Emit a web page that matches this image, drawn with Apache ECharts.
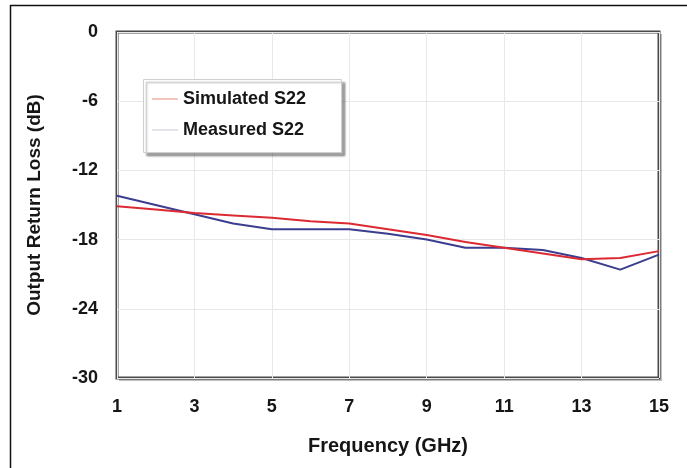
<!DOCTYPE html>
<html>
<head>
<meta charset="utf-8">
<script src="https://cdn.jsdelivr.net/npm/echarts@6/dist/echarts.min.js"></script>
<style>
  html, body { margin: 0; padding: 0; background: #fff; }
  #ec { width: 687px; height: 468px; }
</style>
</head>
<body>
<div id="ec"></div>
<script>
// frequency points (GHz)
var freqs = ['1', '2', '3', '4', '5', '6', '7', '8', '9', '10', '11', '12', '13', '14', '15']
// output return loss (dB)
var simulatedS22 = [-15.1, -15.4, -15.7, -15.9, -16.1, -16.4, -16.6, -17.1, -17.6, -18.2, -18.7, -19.2, -19.7, -19.6, -19.0]
var measuredS22 = [-14.2, -15.0, -15.8, -16.6, -17.1, -17.1, -17.1, -17.5, -18.0, -18.7, -18.7, -18.9, -19.6, -20.6, -19.3]

var font = 'Liberation Sans'
var ink = '#161616'

var chart = echarts.init(document.getElementById('ec'))
chart.setOption({
  animation: false,
  backgroundColor: '#fff',
  textStyle: { fontFamily: font },
  grid: {
    left: 117,
    right: 28,
    top: 32,
    bottom: 90,
    show: true,
    backgroundColor: 'transparent',
    borderColor: '#4a4a4a',
    borderWidth: 3
  },
  graphic: [
    // outer frame (top and left edges visible)
    { type: 'line', z: 1, shape: { x1: 10, y1: 5.5, x2: 687, y2: 5.5 }, style: { stroke: '#111', lineWidth: 1.5 } },
    { type: 'line', z: 1, shape: { x1: 10.5, y1: 5, x2: 10.5, y2: 468 }, style: { stroke: '#111', lineWidth: 1.5 } },
    // soft shadow right/bottom of the plot frame
    { type: 'polyline', z: 1, shape: { points: [[661, 34], [661, 380], [119, 380]] }, style: { fill: null, stroke: 'rgba(0,0,0,0.25)', lineWidth: 2 } },
    // legend box
    {
      type: 'rect',
      z: 5,
      shape: { x: 143.5, y: 79.5, width: 198, height: 73 },
      style: {
        fill: '#fff',
        stroke: '#cfcfcf',
        lineWidth: 1,
        shadowColor: 'rgba(0,0,0,0.35)',
        shadowBlur: 2,
        shadowOffsetX: 3,
        shadowOffsetY: 3
      }
    }
  ],
  legend: {
    z: 10,
    orient: 'vertical',
    left: 143,
    top: 79,
    padding: [11, 20, 14, 9],
    itemWidth: 26,
    itemHeight: 2,
    itemGap: 13,
    selectedMode: false,
    textStyle: { fontFamily: font, fontWeight: 'bold', fontSize: 18, color: ink },
    data: [
      { name: 'Simulated S22', icon: 'rect', itemStyle: { color: '#f5c4bd' } },
      { name: 'Measured S22', icon: 'rect', itemStyle: { color: '#e4e4ec' } }
    ]
  },
  xAxis: {
    type: 'category',
    data: freqs,
    boundaryGap: false,
    name: 'Frequency (GHz)',
    nameLocation: 'middle',
    nameGap: 58,
    nameTextStyle: { fontFamily: font, fontWeight: 'bold', fontSize: 20, color: ink },
    axisLine: { show: false },
    axisTick: { show: false },
    axisLabel: {
      interval: 1,
      margin: 20,
      fontFamily: font,
      fontWeight: 'bold',
      fontSize: 18,
      color: ink
    },
    splitLine: { show: true, interval: 1, lineStyle: { color: '#e8e8e8', width: 1 } }
  },
  yAxis: {
    type: 'value',
    min: -30,
    max: 0,
    interval: 6,
    name: 'Output Return Loss (dB)',
    nameLocation: 'middle',
    nameGap: 73,
    nameTextStyle: { fontFamily: font, fontWeight: 'bold', fontSize: 19, color: ink },
    axisLine: { show: false },
    axisTick: { show: false },
    axisLabel: {
      margin: 19,
      fontFamily: font,
      fontWeight: 'bold',
      fontSize: 18,
      color: ink
    },
    splitLine: { show: true, lineStyle: { color: '#e8e8e8', width: 1 } }
  },
  series: [
    {
      name: 'Measured S22',
      type: 'line',
      data: measuredS22,
      symbol: 'none',
      z: 3,
      lineStyle: { color: '#3b3d8e', width: 2 },
      itemStyle: { color: '#3b3d8e' }
    },
    {
      name: 'Simulated S22',
      type: 'line',
      data: simulatedS22,
      symbol: 'none',
      z: 3,
      lineStyle: { color: '#dc2a33', width: 2 },
      itemStyle: { color: '#dc2a33' }
    }
  ]
})
</script>
</body>
</html>
